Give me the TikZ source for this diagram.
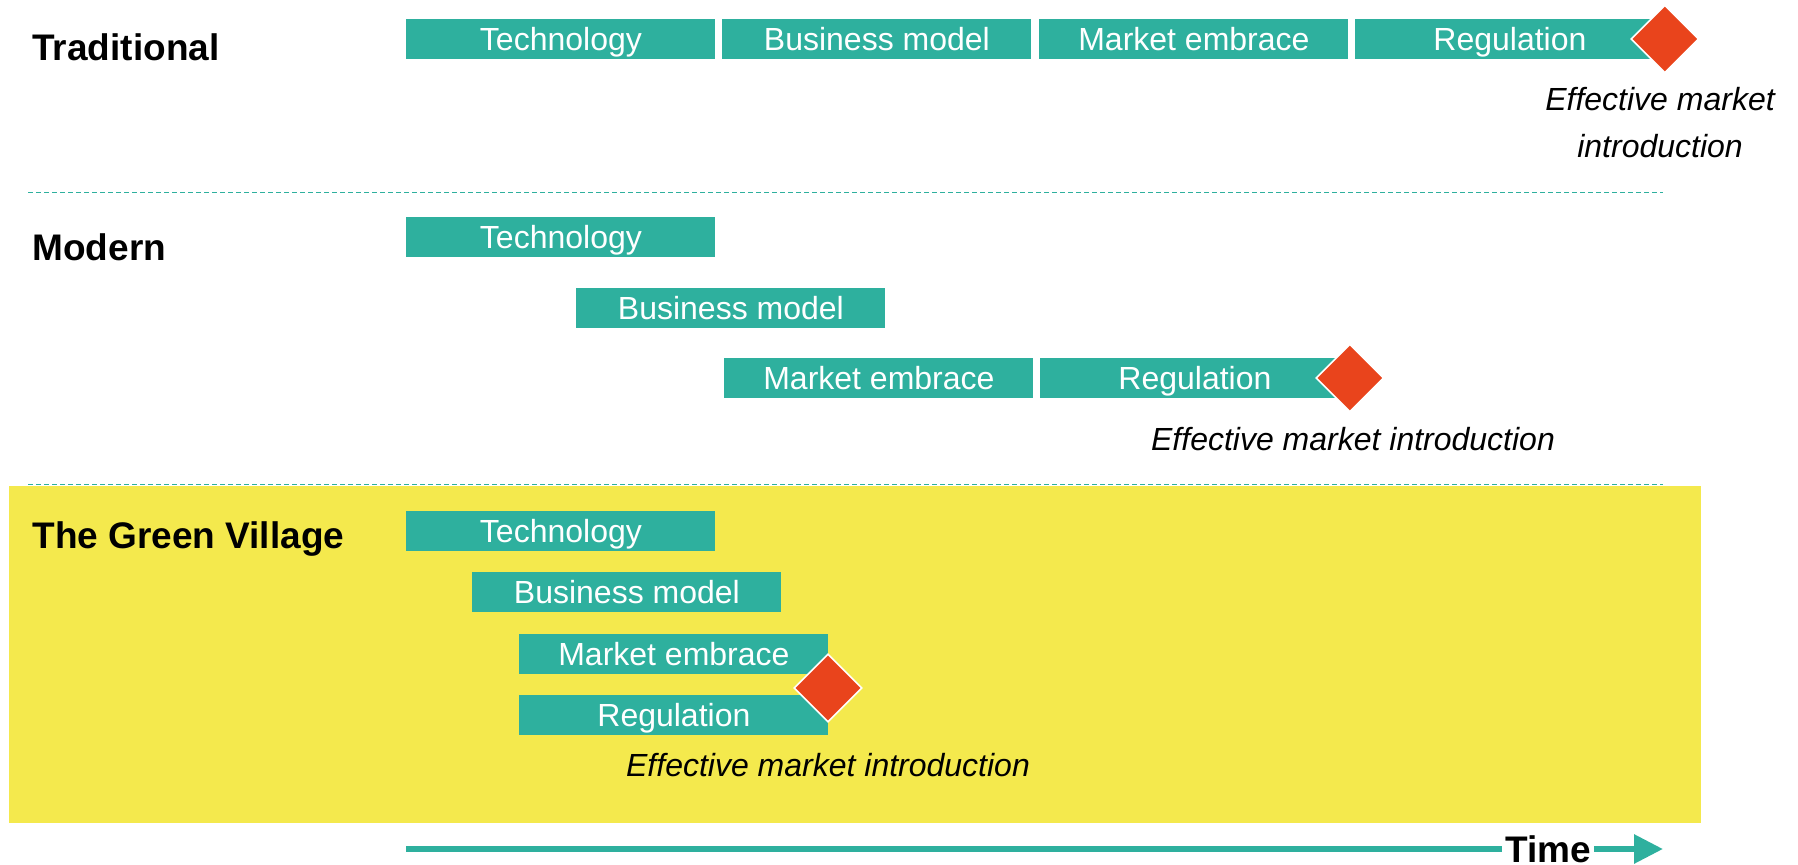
\documentclass[tikz,border=0pt]{standalone}
\usepackage{fontspec}
\setmainfont{Liberation Sans}
\usepackage{tikz}
\usetikzlibrary{shapes.geometric}
\usetikzlibrary{positioning}
\usetikzlibrary {arrows.meta}

\definecolor{tgvteal}{RGB}{46,176,158}
\definecolor{tgvred}{RGB}{233,68,28}
\definecolor{tgvyellow}{RGB}{244,233,77}

\begin{document}
\begin{tikzpicture}[
    x=0.5pt, y=-0.5pt,
    phasebox/.style={rectangle, fill=tgvteal, text=white, inner sep=0pt, minimum width=154.5pt, minimum height=20pt, text height=11.4pt, text depth=0pt, anchor=west, font=\fontsize{16}{19}\selectfont},
    milestone/.style={diamond, fill=tgvred, draw=white, line width=0.8pt, inner sep=0pt, minimum width=34pt, minimum height=34pt},
    rowlabel/.style={anchor=west, inner sep=0pt, font=\bfseries\fontsize{18.5}{22}\selectfont},
    effnote/.style={align=center, inner sep=0pt, font=\itshape\fontsize{16}{23.5}\selectfont},
    separator/.style={tgvteal, line width=0.5pt, dash pattern=on 2.5pt off 1.5pt}
]
    \useasboundingbox (0,0) rectangle (1798,865);
    % Background of the Green Village row
    \fill [tgvyellow] (9,486) rectangle (1701,823);

    % Traditional
    % - [Row label]
    \node at (32, 47) [rowlabel](trad){Traditional};
    % -- The phases one after another
    \node at (406, 39) [phasebox](tech_A){Technology};
    \node at (722, 39) [phasebox](bus_A){Business model};
    \node at (1039, 39) [phasebox](mark_A){Market embrace};
    \node at (1355, 39) [phasebox](reg_A){Regulation};
    \node at (reg_A.east) [milestone](ms_A){};
    \node at (1660, 123) [effnote](note_A){Effective market\\introduction};

    % - [Separator]
    \draw [separator] (28, 193) -- (1663, 193);

    % Modern
    % - [Row label]
    \node at (32, 247) [rowlabel](modern){Modern};
    % -- The phases overlapping
    \node at (406, 237) [phasebox](tech_B){Technology};
    \node at (576, 308) [phasebox](bus_B){Business model};
    \node at (724, 378) [phasebox](mark_B){Market embrace};
    \node at (1040, 378) [phasebox](reg_B){Regulation};
    \node at (reg_B.east) [milestone](ms_B){};
    \node at (1353, 439) [effnote](note_B){Effective market introduction};

    % - [Separator]
    \draw [separator] (28, 485) -- (1663, 485);

    % The Green Village
    % - [Row label]
    \node at (32, 539) [rowlabel](tgv){The Green Village};
    % -- The phases nearly parallel
    \node at (406, 531) [phasebox](tech_C){Technology};
    \node at (472, 592) [phasebox](bus_C){Business model};
    \node at (519, 654) [phasebox](mark_C){Market embrace};
    \node at (519, 715) [phasebox](reg_C){Regulation};
    \node at (828, 688) [milestone](ms_C){};
    \node at (828, 765) [effnote](note_C){Effective market introduction};

    % Time axis
    \coordinate (t_start) at (406, 849);
    \coordinate (t_end) at (1663, 849);
    \node at (1548, 849) [fill=white, inner xsep=1.5pt, inner ysep=0pt, font=\bfseries\fontsize{18.5}{22}\selectfont](time){Time};
    \draw [tgvteal, line width=3pt] (t_start) -- (time.west) ;
    \draw [tgvteal, line width=3pt, -{Triangle[length=14.5pt, width=14pt]}] (time.east) -- (t_end) ;

\end{tikzpicture}
\end{document}
